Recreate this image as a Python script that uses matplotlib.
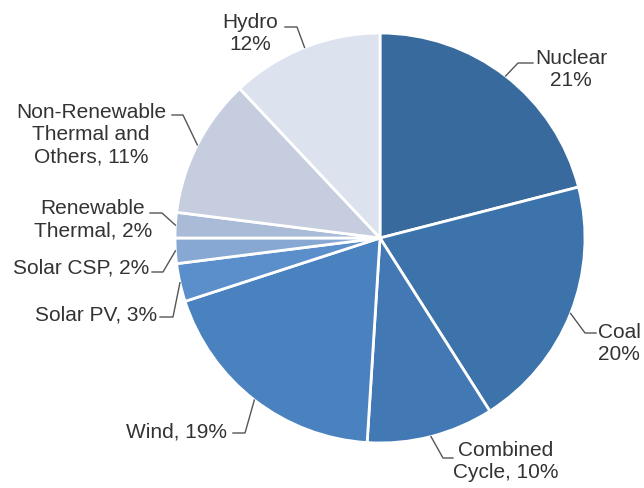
import numpy as np
import matplotlib
matplotlib.use("Agg")
from matplotlib import pyplot as plt

plt.rcParams['font.family'] = ['Liberation Sans', 'DejaVu Sans']

# data, clockwise from 12 o'clock
labels = ["Nuclear\n21%", "Coal\n20%", "Combined\nCycle, 10%", "Wind, 19%",
          "Solar PV, 3%", "Solar CSP, 2%", "Renewable\nThermal, 2%",
          "Non-Renewable\nThermal and\nOthers, 11%", "Hydro\n12%"]
shares = [21, 20, 10, 19, 3, 2, 2, 11, 12]
colors = ["#386a9d", "#3d73ab", "#4279b5", "#4a82c0", "#5b8fcb",
          "#86a8d2", "#a9bbd6", "#c5cddf", "#dde3ee"]

# layout in pixel coords (y from top)
W, H = 644, 488
center = (380, 238)
radius = 205
text_pos = [(571, 70), (598, 344), (506, 462), (227, 432), (157, 315),
            (149, 268), (93, 220), (91, 135), (250, 33)]
text_ha = ["center", "left", "center", "right", "right", "right", "center", "center", "center"]
elbow = [((533, 63), (518, 63)), ((596, 333), (585, 333)), ((453, 458), (443, 458)),
         ((233, 433), (245, 433)), ((160, 317), (173, 317)), ((152, 272), (163, 272)),
         ((150, 213), (162, 213)), ((172, 115), (183, 115)), ((285, 27), (297, 27))]

fig = plt.figure(figsize=(W / 100, H / 100), dpi=100)
ax = fig.add_axes([0, 0, 1, 1])

wedges, _ = ax.pie(shares, colors=colors, startangle=90, counterclock=False,
                   center=(center[0], H - center[1]), radius=radius,
                   wedgeprops=dict(edgecolor='white', linewidth=2))
ax.set_xlim(0, W)
ax.set_ylim(0, H)
ax.set_aspect('equal')
ax.axis('off')

# leader lines: label elbow -> middle of the wedge's outer edge
for w, lab, (tx, ty), ha, (p0, p1) in zip(wedges, labels, text_pos, text_ha, elbow):
    ang = np.deg2rad((w.theta1 + w.theta2) / 2)
    ex = w.center[0] + w.r * np.cos(ang)
    ey = w.center[1] + w.r * np.sin(ang)
    ax.plot([p0[0], p1[0], ex], [H - p0[1], H - p1[1], ey], color='#555555', lw=1)
    ax.text(tx, H - ty, lab, ha=ha, va='center', multialignment='center' if ha == 'center' else ha,
            fontsize=15, color='#333333', linespacing=1.2)

plt.savefig("out.png", dpi=100)
